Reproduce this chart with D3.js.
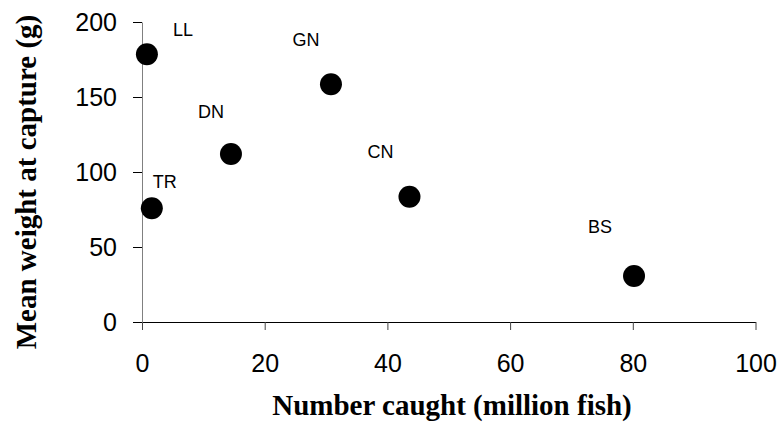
<!DOCTYPE html>
<html>
<head>
<meta charset="utf-8">
<script src="https://cdn.jsdelivr.net/npm/d3@7"></script>
<style>
  body { margin: 0; background: #fff; }
  .tick text { font-family: "Liberation Sans", Arial, sans-serif; font-size: 25px; fill: #000; }
  .titre { font-family: "Liberation Serif", "Times New Roman", serif; font-weight: bold; font-size: 29px; }
  .code { font-family: "Liberation Sans", Arial, sans-serif; font-size: 18px; }
</style>
</head>
<body>
<div id="graphe"></div>
<script>
//----------------------------------------------------------------
//  données
//----------------------------------------------------------------
var codes   = ["LL", "TR", "DN", "GN", "CN", "BS"];
var nombres = [0.8, 1.6, 14.5, 30.8, 43.6, 80.2];    // million fish
var poids   = [178.5, 75.8, 112, 158.5, 83.5, 30.7]; // g
var ticksX  = [0, 20, 40, 60, 80, 100];
var ticksY  = [0, 50, 100, 150, 200];

// position des étiquettes par rapport au point (pixels)
var decalages = [[36, -18], [13, -20], [-20, -36], [-25, -38], [-29, -39], [-34, -43]];

//----------------------------------------------------------------
//  création du svg
//----------------------------------------------------------------
largeurSvg = 784 ; hauteurSvg = 422;
var marges = {haut: 22, droite: 28.5, bas: 100, gauche: 142};

var svg = d3.select("#graphe")
    .append("svg")
    .attr("width", largeurSvg)
    .attr("height", hauteurSvg);

var x = d3.scaleLinear()
    .domain([0, 100])
    .range([marges.gauche, largeurSvg - marges.droite]);
var y = d3.scaleLinear()
    .domain([0, 200])
    .range([hauteurSvg - marges.bas, marges.haut]);

// axe x
var axeX = svg.append("g")
    .attr("transform", "translate(0," + y(0) + ")")
    .call(d3.axisBottom(x).tickValues(ticksX).tickSize(8).tickSizeOuter(0).tickPadding(24));
axeX.select(".domain").attr("stroke", "#000");
axeX.selectAll(".tick line").attr("stroke", "#444");

// axe y
var axeY = svg.append("g")
    .attr("transform", "translate(" + x(0) + ",0)")
    .call(d3.axisLeft(y).tickValues(ticksY).tickSize(9).tickSizeOuter(0).tickPadding(16));
axeY.select(".domain").attr("stroke", "#808080");
axeY.selectAll(".tick line").attr("stroke", "#000");

//----------------------------------------------------------------
//  points et étiquettes
//----------------------------------------------------------------
var donnees = codes.map(function(c, i) {
    return {code: c, nombre: nombres[i], poids: poids[i], dec: decalages[i]};
});

svg.selectAll("circle.point")
    .data(donnees)
    .enter().append("circle")
    .attr("class", "point")
    .attr("cx", function(d) { return x(d.nombre); })
    .attr("cy", function(d) { return y(d.poids); })
    .attr("r", 11)
    .attr("fill", "#000");

svg.selectAll("text.code")
    .data(donnees)
    .enter().append("text")
    .attr("class", "code")
    .attr("text-anchor", "middle")
    .attr("x", function(d) { return x(d.nombre) + d.dec[0]; })
    .attr("y", function(d) { return y(d.poids) + d.dec[1]; })
    .text(function(d) { return d.code; });

//----------------------------------------------------------------
//  titres des axes
//----------------------------------------------------------------
svg.append("text")
    .attr("class", "titre")
    .attr("text-anchor", "middle")
    .attr("x", 452)
    .attr("y", 415)
    .text("Number caught (million fish)");

svg.append("text")
    .attr("class", "titre")
    .attr("text-anchor", "middle")
    .attr("transform", "translate(36,182) rotate(-90)")
    .text("Mean weight at capture (g)");
</script>
</body>
</html>
